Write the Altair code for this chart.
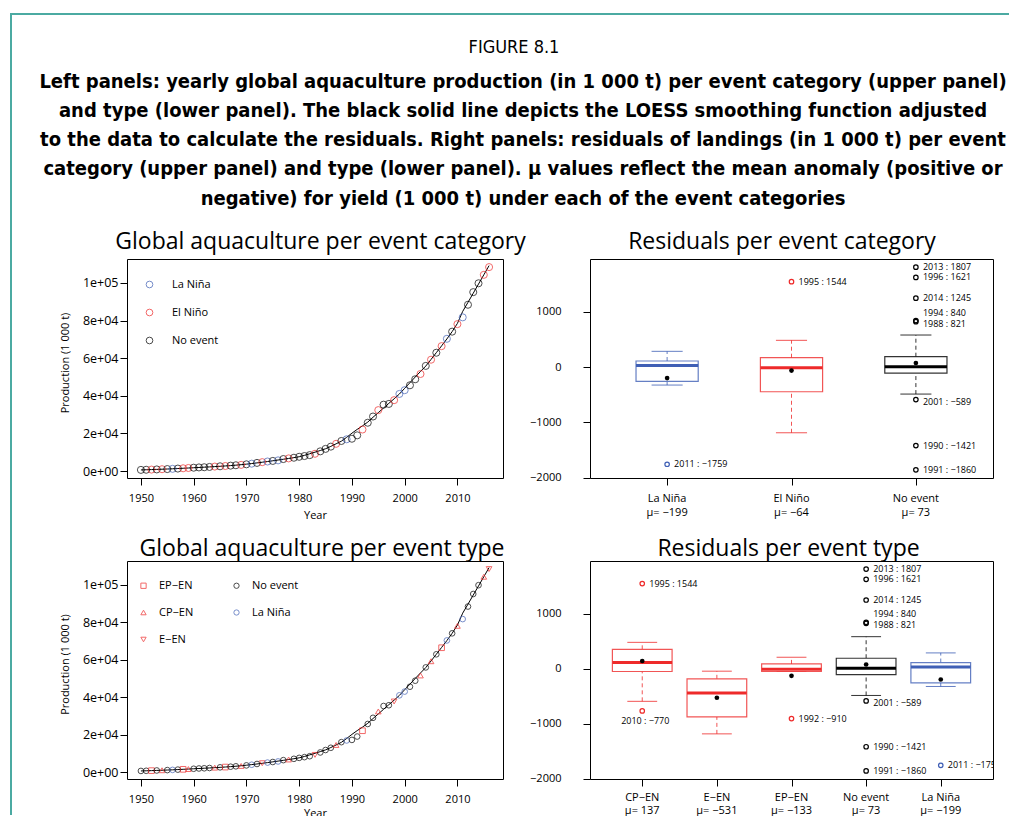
import altair as alt
import pandas as pd

# ---------------- data ----------------
years = list(range(1950, 2017))
production = [640, 710, 800, 890, 1000, 1080, 1200, 1340, 1500, 1650,
              1800, 1950, 2050, 2200, 2400, 2550, 2700, 2900, 3100, 3300,
              3600, 3950, 4350, 4750, 5100, 5400, 5700, 6400, 6750, 7100,
              7600, 8000, 8500, 9200, 10500, 11800, 13000, 14500, 16000, 16900,
              17200, 19000, 22100, 25700, 29000, 32400, 35300, 35700, 37700, 41000,
              43000, 45600, 48800, 51600, 55900, 59200, 62900, 66400, 70300, 74100,
              78100, 81700, 88400, 95100, 99800, 104300, 108400]

LN, ELN, NO = "La Niña", "El Niño", "No event"
category = [NO, NO, ELN, NO, ELN, NO, LN, NO, ELN, ELN,
            NO, NO, NO, NO, ELN, NO, ELN, NO, NO, ELN,
            NO, LN, NO, ELN, LN, NO, LN, NO, ELN, NO,
            NO, NO, NO, ELN, NO, NO, NO, ELN, NO, LN,
            NO, NO, ELN, NO, NO, ELN, NO, NO, ELN, LN,
            LN, NO, NO, ELN, NO, ELN, NO, ELN, LN, NO,
            ELN, LN, NO, NO, NO, ELN, ELN]

EP, CP, EE = "EP−EN", "CP−EN", "E−EN"
etype = [NO, NO, EP, NO, CP, NO, LN, NO, EP, CP,
         NO, NO, NO, NO, CP, NO, EP, NO, NO, CP,
         NO, LN, NO, EE, LN, NO, LN, NO, CP, NO,
         NO, NO, NO, EE, NO, NO, NO, CP, NO, LN,
         NO, NO, EP, NO, NO, CP, NO, NO, EE, LN,
         LN, NO, NO, CP, NO, CP, NO, EP, LN, NO,
         CP, LN, NO, NO, NO, CP, EE]

top_cats = [LN, ELN, NO]
top_q1 = [-260, -447, -109]
top_med = [30, -12, 6]
top_q3 = [109, 169, 187]
top_wlo = [-326, -1189, -489]
top_whi = [284, 483, 579]
top_mean = [-199, -64, 73]

bot_cats = [CP, EE, EP, NO, LN]
bot_q1 = [-54, -880, -54, -109, -260]
bot_med = [108, -446, -12, 6, 30]
bot_q3 = [349, -187, 84, 187, 109]
bot_wlo = [-596, -1187, -54, -489, -326]
bot_whi = [476, -48, 205, 579, 284]
bot_mean = [137, -531, -133, 73, -199]

ne_out_year = [2013, 1996, 2014, 1994, 1988, 2001, 1990, 1991]
ne_out_val = [1807, 1621, 1245, 840, 821, -589, -1421, -1860]

top_out_cat = [LN, ELN] + [NO] * 8
top_out_year = [2011, 1995] + ne_out_year
top_out_val = [-1759, 1544] + ne_out_val

bot_out_cat = [CP, CP, EP] + [NO] * 8 + [LN]
bot_out_year = [1995, 2010, 1992] + ne_out_year + [2011]
bot_out_val = [1544, -770, -910] + ne_out_val + [-1759]

title_lines = [
    "Left panels: yearly global aquaculture production (in 1 000 t) per event category (upper panel)",
    "and type (lower panel). The black solid line depicts the LOESS smoothing function adjusted",
    "to the data to calculate the residuals. Right panels: residuals of landings (in 1 000 t) per event",
    "category (upper panel) and type (lower panel). μ values reflect the mean anomaly (positive or",
    "negative) for yield (1 000 t) under each of the event categories",
]

# ---------------- styles ----------------
FONT = "Open Sans"
TFONT = "DejaVu Sans Condensed, sans-serif"
BLUE = "#3F5FB5"
RED = "#EE2A2A"
TEAL = "#4BAAA2"

W_L, W_R = 376, 403
H_T, H_B = 219, 218


def minus(s):
    return str(s).replace("-", "−")


def txt(text, x, y, size, weight="normal", font=FONT, align="center",
        baseline="alphabetic", line_height=None):
    kw = dict(text=text, fontSize=size, fontWeight=weight, font=font,
              align=align, baseline=baseline, color="black")
    if line_height:
        kw["lineHeight"] = line_height
    return alt.Chart(pd.DataFrame({"d": [0]})).mark_text(**kw).encode(
        x=alt.value(x), y=alt.value(y))


prod_df = pd.DataFrame({"year": years, "production": production,
                        "category": category, "type": etype})


def prod_panel(height, color_field, shape_enc, pt_size, ptitle, ptitle_x, ptitle_y,
               year_title_y, extra):
    x_enc = alt.X("year:Q",
                  scale=alt.Scale(domain=[1947.36, 2018.64], nice=False, zero=False),
                  axis=alt.Axis(values=list(range(1950, 2011, 10)), format="d",
                                title="Year", titleX=W_L / 2, titleY=year_title_y,
                                titleBaseline="middle", titleAlign="center",
                                labelPadding=7))
    y_enc = alt.Y("production:Q",
                  scale=alt.Scale(domain=[-3670, 112710], nice=False, zero=False),
                  axis=alt.Axis(values=[0, 20000, 40000, 60000, 80000, 100000],
                                labelExpr="datum.value == 0 ? '0e+00' : (datum.value == 100000 ? '1e+05' : (datum.value / 10000) + 'e+04')",
                                labelFontSize=12.5,
                                title="Production (1 000 t)", titleX=-62,
                                titleY=height / 2 - 6, titleAngle=270,
                                titleBaseline="middle", titleAlign="center",
                                labelPadding=2))
    line = alt.Chart(prod_df).transform_loess(
        "year", "production", bandwidth=0.15
    ).mark_line(color="black", strokeWidth=1).encode(x=x_enc, y=y_enc)
    enc = dict(x=x_enc, y=y_enc, color=color_field)
    if shape_enc is not None:
        enc["shape"] = shape_enc
    pts = alt.Chart(prod_df).mark_point(filled=False, size=pt_size, strokeWidth=1).encode(**enc)
    layers = [line, pts, txt(ptitle, ptitle_x, ptitle_y, 23)] + extra
    return alt.layer(*layers).properties(width=W_L, height=height)


# top-left legend & encodings
tl_legend = alt.Legend(title=None, orient="none", legendX=17, legendY=20,
                       symbolType="circle", symbolSize=45, symbolStrokeWidth=1,
                       labelFont=FONT, labelFontSize=11, labelColor="black",
                       labelOffset=17, rowPadding=16, padding=0)
tl_color = alt.Color("category:N",
                     scale=alt.Scale(domain=[LN, ELN, NO], range=[BLUE, RED, "black"]),
                     legend=tl_legend)

type_order = [EP, CP, EE, NO, LN]
bl_legend = alt.Legend(title=None, orient="none", legendX=11, legendY=19,
                       columns=2, columnPadding=37, symbolSize=28,
                       symbolStrokeWidth=1, labelFont=FONT, labelFontSize=11,
                       labelColor="black", labelOffset=10, rowPadding=15,
                       padding=0)
bl_color = alt.Color("type:N",
                     scale=alt.Scale(domain=type_order, range=[RED, RED, RED, "black", BLUE]),
                     legend=bl_legend)
bl_shape = alt.Shape("type:N",
                     scale=alt.Scale(domain=type_order,
                                     range=["square", "triangle-up", "triangle-down", "circle", "circle"]),
                     legend=bl_legend)

# decorations in the top-left panel: teal frame and figure caption
dummy = pd.DataFrame({"d": [0]})
frame_v = alt.Chart(dummy).mark_rule(color=TEAL, strokeWidth=2).encode(
    x=alt.value(-116), y=alt.value(-246), y2=alt.value(556))
frame_h = alt.Chart(dummy).mark_rule(color=TEAL, strokeWidth=2).encode(
    x=alt.value(-117), x2=alt.value(882), y=alt.value(-245))
fig_label = txt("FIGURE 8.1", 387, -211, 18, font=TFONT, baseline="middle")
fig_title = txt(title_lines, 396, -177.5, 20, weight="bold", font=TFONT,
                baseline="middle", line_height=29.3)

TL = prod_panel(H_T, tl_color, None, 50,
                "Global aquaculture per event category", 193.5, -10, 37,
                [frame_v, frame_h, fig_label, fig_title])
BL = prod_panel(H_B, bl_color, bl_shape, 32,
                "Global aquaculture per event type", 195, -5, 34, [])


def box_panel(cats, q1, med, q3, wlo, whi, mean, ocat, oyear, oval, colors,
              hw, height, ptitle, ptitle_x, ptitle_y, lab_up, lab_dn, lab_below,
              lab_y, lab_lh):
    n = len(cats)
    pad = 0.04 * n
    xs = alt.Scale(domain=[0.5 - pad, n + 0.5 + pad], nice=False, zero=False)
    ys = alt.Scale(domain=[-2007, 1954], nice=False, zero=False)
    x_axis = alt.Axis(values=list(range(1, n + 1)), labels=False, title=None)
    y_axis = alt.Axis(values=[-2000, -1000, 0, 1000], format="d", title=None,
                      labelPadding=22)
    cscale = alt.Scale(domain=cats, range=colors)
    col = alt.Color("cat:N", scale=cscale, legend=None)
    stroke_col = alt.Stroke("cat:N", scale=cscale, legend=None)

    bdf = pd.DataFrame({"cat": cats, "pos": list(range(1, n + 1)), "q1": q1,
                        "med": med, "q3": q3, "wlo": wlo, "whi": whi, "mean": mean})
    bdf["lab"] = [c + "\nμ= " + minus(m) for c, m in zip(cats, mean)]
    base = alt.Chart(bdf).transform_calculate(
        xl=f"datum.pos - {hw}", xr=f"datum.pos + {hw}",
        cl=f"datum.pos - {hw / 2}", cr=f"datum.pos + {hw / 2}")

    X = lambda f: alt.X(f"{f}:Q", scale=xs, axis=x_axis)
    Y = lambda f: alt.Y(f"{f}:Q", scale=ys, axis=y_axis)

    wh_up = base.mark_rule(strokeDash=[4, 3], strokeOpacity=0.8).encode(
        x=X("pos"), y=Y("q3"), y2="whi:Q", color=col)
    wh_dn = base.mark_rule(strokeDash=[4, 3], strokeOpacity=0.8).encode(
        x=X("pos"), y=Y("wlo"), y2="q1:Q", color=col)
    cap_up = base.mark_rule(strokeOpacity=0.8).encode(
        x=X("cl"), x2="cr:Q", y=Y("whi"), color=col)
    cap_dn = base.mark_rule(strokeOpacity=0.8).encode(
        x=X("cl"), x2="cr:Q", y=Y("wlo"), color=col)
    box = base.mark_rect(fill="white", strokeWidth=1.2, strokeOpacity=0.8).encode(
        x=X("xl"), x2="xr:Q", y=Y("q1"), y2="q3:Q", stroke=stroke_col)
    median = base.mark_rule(strokeWidth=3).encode(
        x=X("xl"), x2="xr:Q", y=Y("med"), color=col)
    mean_pt = base.mark_point(filled=True, color="black", size=22, opacity=1).encode(
        x=X("pos"), y=Y("mean"))
    catlab = base.mark_text(font=FONT, fontSize=11, baseline="middle",
                            lineBreak="\n", lineHeight=lab_lh, color="black").encode(
        x=X("pos"), y=alt.value(height + lab_y), text="lab:N")

    pos_of = {c: i + 1 for i, c in enumerate(cats)}
    odf = pd.DataFrame({"cat": ocat, "year": oyear, "val": oval})
    odf["pos"] = [pos_of[c] for c in ocat]
    odf["lab"] = [f"{y} : {minus(v)}" for y, v in zip(oyear, oval)]
    out_pts = alt.Chart(odf).mark_point(filled=False, size=20, strokeWidth=1.2, opacity=1).encode(
        x=X("pos"), y=Y("val"), color=col)

    special = lab_up + lab_dn + lab_below
    layers = [wh_up, wh_dn, cap_up, cap_dn, box, median, mean_pt, out_pts, catlab]
    groups = [
        (odf[~odf["year"].isin(special)], dict(align="left", dx=7, dy=0)),
        (odf[odf["year"].isin(lab_up)], dict(align="left", dx=7, dy=-8)),
        (odf[odf["year"].isin(lab_dn)], dict(align="left", dx=7, dy=2)),
        (odf[odf["year"].isin(lab_below)], dict(align="center", dx=3, dy=10)),
    ]
    for g, kw in groups:
        if len(g) == 0:
            continue
        layers.append(alt.Chart(g).mark_text(font=FONT, fontSize=9, baseline="middle",
                                             color="black", clip=True, **kw).encode(
            x=X("pos"), y=Y("val"), text="lab:N"))
    layers.append(txt(ptitle, ptitle_x, ptitle_y, 23))
    return alt.layer(*layers).properties(width=W_R, height=height)


TR = box_panel(top_cats, top_q1, top_med, top_q3, top_wlo, top_whi, top_mean,
               top_out_cat, top_out_year, top_out_val, [BLUE, RED, "black"],
               0.25, H_T, "Residuals per event category", 192, -10,
               [1994], [1988, 2001], [], 21, 14)
BR = box_panel(bot_cats, bot_q1, bot_med, bot_q3, bot_wlo, bot_whi, bot_mean,
               bot_out_cat, bot_out_year, bot_out_val, [RED, RED, RED, "black", BLUE],
               0.4, H_B, "Residuals per event type", 198.5, -5,
               [1994], [1988, 2001], [2010], 19, 13)

res = dict(color="independent", shape="independent", stroke="independent")
chart = alt.concat(TL, TR, BL, BR, columns=2, spacing={"row": 83, "column": 87},
                   bounds="flush").resolve_scale(**res).properties(
    padding={"left": 0, "top": 3, "right": 0, "bottom": -3}
).configure_view(stroke="black", strokeWidth=1).configure_axis(
    domain=False, grid=False, tickColor="black", tickSize=7, tickWidth=1,
    labelColor="black", labelFont=FONT, labelFontSize=11,
    titleColor="black", titleFont=FONT, titleFontSize=11, titleFontWeight="normal",
    labelOverlap=False, labelFlush=False
)

chart.save("out.html", embed_options={"renderer": "svg", "actions": False})
